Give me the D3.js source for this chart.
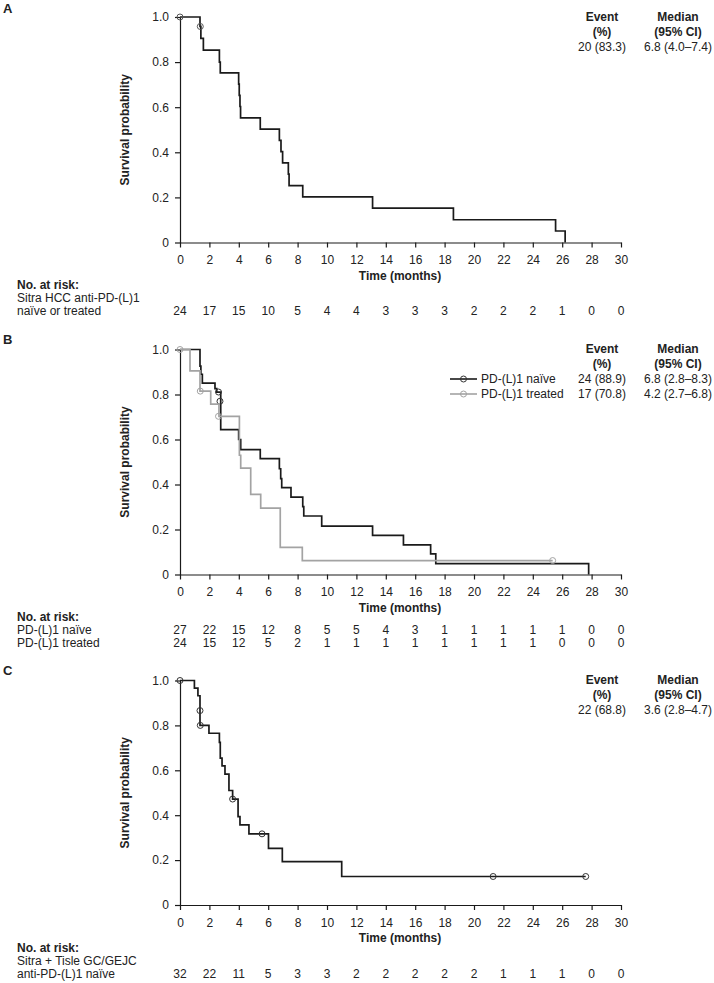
<!DOCTYPE html>
<html>
<head>
<meta charset="utf-8">
<script src="https://cdn.jsdelivr.net/npm/d3@7"></script>
<style>
  html, body { margin: 0; padding: 0; background: #fff; }
  svg { display: block; font-family: "Liberation Sans", Arial, sans-serif; }
  text { fill: #222; }
</style>
</head>
<body>
<svg id="chart" width="714" height="983"></svg>
<script>
// ---------------- DATA ----------------
const xTicks = [0, 2, 4, 6, 8, 10, 12, 14, 16, 18, 20, 22, 24, 26, 28, 30];
const yTicks = [0, 0.2, 0.4, 0.6, 0.8, 1.0];

// Panel A: Sitra HCC anti-PD-(L)1 naive or treated
const timeA = [0, 1.36, 1.42, 1.59, 2.68, 2.74, 3.99, 4.03, 4.08, 4.12, 5.46, 6.76, 6.87, 6.98, 7.37, 7.42, 8.35, 13.1, 18.6, 25.55, 26.2];
const survA = [1.0, 0.958, 0.905, 0.853, 0.800, 0.752, 0.702, 0.652, 0.603, 0.553, 0.503, 0.453, 0.403, 0.353, 0.303, 0.252, 0.202, 0.152, 0.101, 0.051, 0.0];
const censorTimeA = [0, 1.38];
const censorSurvA = [1.0, 0.958];
const riskA = [24, 17, 15, 10, 5, 4, 4, 3, 3, 3, 2, 2, 2, 1, 0, 0];

// Panel B: PD-(L)1 naive (black)
const timeBn = [0, 1.36, 1.42, 1.52, 2.38, 2.5, 2.77, 3.99, 4.13, 5.46, 6.76, 6.85, 6.92, 7.55, 8.35, 8.42, 9.64, 13.1, 15.2, 17.05, 17.4, 27.8];
const survBn = [1.0, 0.926, 0.89, 0.851, 0.826, 0.811, 0.644, 0.60, 0.555, 0.515, 0.47, 0.426, 0.386, 0.344, 0.302, 0.26, 0.215, 0.174, 0.132, 0.092, 0.048, 0.0];
const censorTimeBn = [2.62, 2.72];
const censorSurvBn = [0.811, 0.77];
// Panel B: PD-(L)1 treated (grey)
const timeBt = [0, 0.68, 1.36, 2.09, 2.65, 4.04, 4.13, 4.81, 5.49, 6.82, 8.32, 25.35];
const survBt = [1.0, 0.905, 0.815, 0.757, 0.703, 0.53, 0.473, 0.356, 0.295, 0.121, 0.062, 0.062];
const censorTimeBt = [0, 1.38, 2.62, 25.35];
const censorSurvBt = [1.0, 0.815, 0.703, 0.062];
const riskBn = [27, 22, 15, 12, 8, 5, 5, 4, 3, 1, 1, 1, 1, 1, 0, 0];
const riskBt = [24, 15, 12, 5, 2, 1, 1, 1, 1, 1, 1, 1, 1, 0, 0, 0];

// Panel C: Sitra + Tisle GC/GEJC anti-PD-(L)1 naive
const timeC = [0, 0.98, 1.22, 1.36, 1.97, 2.68, 2.74, 2.86, 3.06, 3.33, 3.58, 3.95, 4.08, 4.69, 6.02, 6.96, 11.0, 27.6];
const survC = [1.0, 0.966, 0.932, 0.80, 0.765, 0.724, 0.654, 0.62, 0.583, 0.51, 0.472, 0.394, 0.357, 0.317, 0.252, 0.193, 0.127, 0.127];
const censorTimeC = [0, 1.36, 1.38, 3.58, 5.58, 21.3, 27.6];
const censorSurvC = [1.0, 0.866, 0.80, 0.472, 0.317, 0.127, 0.127];
const riskC = [32, 22, 11, 5, 3, 3, 2, 2, 2, 2, 2, 1, 1, 1, 0, 0];

// Legend / summary text
const legendHeader = [["Event", "(%)"], ["Median", "(95% CI)"]];
const summaryA = [["20 (83.3)", "6.8 (4.0–7.4)"]];
const seriesB = ["PD-(L)1 naïve", "PD-(L)1 treated"];
const summaryB = [["24 (88.9)", "6.8 (2.8–8.3)"], ["17 (70.8)", "4.2 (2.7–6.8)"]];
const summaryC = [["22 (68.8)", "3.6 (2.8–4.7)"]];
const riskLabelsA = ["Sitra HCC anti-PD-(L)1", "naïve or treated"];
const riskLabelsB = ["PD-(L)1 naïve", "PD-(L)1 treated"];
const riskLabelsC = ["Sitra + Tisle GC/GEJC", "anti-PD-(L)1 naïve"];

// ---------------- DRAWING ----------------
const svg = d3.select("#chart");
const BLACK = "#1a1a1a", GREY = "#a3a3a3";
const FS = 12;

const x = d3.scaleLinear().domain([0, 30]).range([180, 621]);

function zip(t, s) { return t.map((v, i) => [v, s[i]]); }

function drawPanel(opt) {
  const y = d3.scaleLinear().domain([0, 1]).range([opt.bottom, opt.top]);
  const g = svg.append("g");

  // panel letter
  g.append("text").attr("x", 3).attr("y", opt.letterY + 4.5)
    .attr("font-size", 13).attr("font-weight", "bold").text(opt.letter);

  // axes
  const xa = g.append("g").attr("transform", `translate(0,${opt.bottom})`)
    .call(d3.axisBottom(x).tickValues(xTicks).tickFormat(d3.format("d")).tickSize(5).tickSizeOuter(0).tickPadding(8));
  const ya = g.append("g").attr("transform", `translate(${x(0)},0)`)
    .call(d3.axisLeft(y).tickValues(yTicks).tickFormat(d => d === 0 ? "0" : d3.format(".1f")(d)).tickSize(5).tickSizeOuter(0).tickPadding(6));
  [xa, ya].forEach(a => {
    a.selectAll("path, line").attr("stroke", BLACK).attr("stroke-width", 1.2);
    a.selectAll("text").attr("font-size", FS).attr("fill", "#222").attr("font-family", "Liberation Sans, Arial, sans-serif");
  });

  // y label
  g.append("text")
    .attr("transform", `translate(129,${(opt.top + opt.bottom) / 2}) rotate(-90)`)
    .attr("text-anchor", "middle").attr("font-size", 12).attr("font-weight", "bold")
    .text("Survival probability");
  // x label
  g.append("text").attr("x", 400).attr("y", opt.bottom + 37)
    .attr("text-anchor", "middle").attr("font-size", 12).attr("font-weight", "bold")
    .text("Time (months)");

  // curves
  const line = d3.line().x(d => x(d[0])).y(d => y(d[1])).curve(d3.curveStepAfter);
  opt.series.forEach(s => {
    g.append("path").datum(zip(s.t, s.s)).attr("d", line)
      .attr("fill", "none").attr("stroke", s.color).attr("stroke-width", 1.7);
    g.selectAll(null).data(zip(s.ct, s.cs)).enter().append("circle")
      .attr("cx", d => x(d[0])).attr("cy", d => y(d[1])).attr("r", 3)
      .attr("fill", "none").attr("stroke", s.censorColor).attr("stroke-width", 1);
  });

  // legend header
  const colX = [602, 678];
  legendHeader.forEach((lines, ci) => {
    lines.forEach((txt, li) => {
      g.append("text").attr("x", colX[ci]).attr("y", opt.legendY + li * 15 + 4)
        .attr("text-anchor", "middle").attr("font-size", 12).attr("font-weight", "bold").text(txt);
    });
  });
  opt.summary.forEach((row, ri) => {
    const yy = opt.legendY + 30 + ri * 15 + 4;
    row.forEach((txt, ci) => {
      g.append("text").attr("x", colX[ci]).attr("y", yy)
        .attr("text-anchor", "middle").attr("font-size", 12).text(txt);
    });
    if (opt.legendNames) {
      const yc = opt.legendY + 30 + ri * 15;
      const s = opt.series[ri];
      g.append("line").attr("x1", 450).attr("x2", 477).attr("y1", yc).attr("y2", yc)
        .attr("stroke", s.color).attr("stroke-width", 1.6);
      g.append("circle").attr("cx", 463.5).attr("cy", yc).attr("r", 3)
        .attr("fill", "none").attr("stroke", s.censorColor).attr("stroke-width", 1);
      g.append("text").attr("x", 481).attr("y", yy).attr("font-size", 12).text(opt.legendNames[ri]);
    }
  });

  // number at risk
  const r0 = opt.bottom + 42.5;
  g.append("text").attr("x", 17).attr("y", r0 + 4).attr("font-size", FS).attr("font-weight", "bold").text("No. at risk:");
  opt.riskLabels.forEach((lab, i) => {
    const idx = opt.riskLabelRows[i];
    g.append("text").attr("x", 17).attr("y", r0 + 13 * (idx + 1) + 4).attr("font-size", FS).text(lab);
  });
  opt.risk.forEach((arr, ri) => {
    const yy = r0 + 13 * (opt.riskRows[ri] + 1) + 4;
    g.selectAll(null).data(arr).enter().append("text")
      .attr("x", (d, i) => x(xTicks[i])).attr("y", yy)
      .attr("text-anchor", "middle").attr("font-size", FS).text(d => d);
  });
}

drawPanel({
  letter: "A", letterY: 8, top: 17, bottom: 242.5, legendY: 17,
  series: [{ t: timeA, s: survA, ct: censorTimeA, cs: censorSurvA, color: BLACK, censorColor: "#555" }],
  summary: summaryA,
  riskLabels: riskLabelsA, riskLabelRows: [0, 1], risk: [riskA], riskRows: [1]
});

drawPanel({
  letter: "B", letterY: 339, top: 349.5, bottom: 574.5, legendY: 349,
  series: [
    { t: timeBn, s: survBn, ct: censorTimeBn, cs: censorSurvBn, color: BLACK, censorColor: "#333" },
    { t: timeBt, s: survBt, ct: censorTimeBt, cs: censorSurvBt, color: GREY, censorColor: GREY }
  ],
  summary: summaryB, legendNames: seriesB,
  riskLabels: riskLabelsB, riskLabelRows: [0, 1], risk: [riskBn, riskBt], riskRows: [0, 1]
});

drawPanel({
  letter: "C", letterY: 670, top: 680.5, bottom: 905, legendY: 680,
  series: [{ t: timeC, s: survC, ct: censorTimeC, cs: censorSurvC, color: BLACK, censorColor: "#333" }],
  summary: summaryC,
  riskLabels: riskLabelsC, riskLabelRows: [0, 1], risk: [riskC], riskRows: [1]
});
</script>
</body>
</html>
